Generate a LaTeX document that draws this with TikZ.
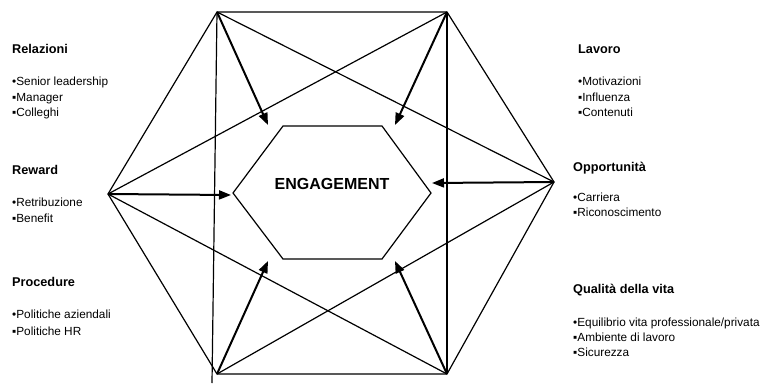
\documentclass[tikz,border=0pt]{standalone}
\usepackage{fontspec}
\setmainfont{Liberation Sans}
\usetikzlibrary{arrows.meta}
\begin{document}
\begin{tikzpicture}[x=1pt,y=-1pt,
  edge/.style={draw=black,line width=1.2pt},
  arr/.style={draw=black,line width=2pt,-{Triangle[length=12pt,width=9pt]}},
  hdr/.style={anchor=base west,inner sep=0pt,font=\fontsize{12.7}{14}\selectfont\bfseries},
  itm/.style={anchor=base west,inner sep=0pt,font=\fontsize{11.8}{13}\selectfont}]
\useasboundingbox (0,0) rectangle (763,383);
\fill[white] (0,0) rectangle (763,383);
% outer hexagon vertices
\coordinate (TL) at (217,12);
\coordinate (TR) at (447,12);
\coordinate (R) at (554,182);
\coordinate (BR) at (447,374);
\coordinate (BL) at (217,374);
\coordinate (L) at (108,194);
\coordinate (Lend) at (212,383);
% inner hexagon
\coordinate (i1) at (283,126);
\coordinate (i2) at (382,126);
\coordinate (i3) at (431,193);
\coordinate (i4) at (382,259);
\coordinate (i5) at (283,259);
\coordinate (i6) at (233,193);
% arrow tips
\coordinate (tTL) at (268,125);
\coordinate (tTR) at (395,125);
\coordinate (tBL) at (268,261);
\coordinate (tBR) at (395,261);
\coordinate (tL) at (231,195);
\coordinate (tR) at (432,183);
% outer edges
\draw[edge] (TL) -- (TR) -- (R) -- (BR) -- (BL) -- (L) -- cycle;
\draw[edge] (TL) -- (Lend);
\draw[edge] (TR) -- (BR);
% diagonals
\draw[edge] (TL) -- (R);
\draw[edge] (TR) -- (L);
\draw[edge] (BL) -- (R);
\draw[edge] (BR) -- (L);
% inner hexagon
\draw[edge] (i1) -- (i2) -- (i3) -- (i4) -- (i5) -- (i6) -- cycle;
\node[font=\fontsize{16}{18}\selectfont\bfseries] (eng) at (332,184) {ENGAGEMENT};
% arrows
\draw[arr] (TL) -- (tTL);
\draw[arr] (TR) -- (tTR);
\draw[arr] (BL) -- (tBL);
\draw[arr] (BR) -- (tBR);
\draw[arr] (L) -- (tL);
\draw[arr] (R) -- (tR);
% left texts
\node[hdr] (rel) at (12,53) {Relazioni};
\node[itm] (rel1) at (12,85) {•Senior leadership};
\node[itm] (rel2) at (12,101) {▪Manager};
\node[itm] (rel3) at (12,116) {▪Colleghi};
\node[hdr] (rew) at (12,174) {Reward};
\node[itm] (rew1) at (12,206) {•Retribuzione};
\node[itm] (rew2) at (12,222) {▪Benefit};
\node[hdr] (pro) at (12,286) {Procedure};
\node[itm] (pro1) at (12,318) {•Politiche aziendali};
\node[itm] (pro2) at (12,335) {▪Politiche HR};
% right texts
\node[hdr] (lav) at (578,53) {Lavoro};
\node[itm] (lav1) at (578,85) {•Motivazioni};
\node[itm] (lav2) at (578,101) {▪Influenza};
\node[itm] (lav3) at (578,116) {▪Contenuti};
\node[hdr] (opp) at (573,171) {Opportunità};
\node[itm] (opp1) at (573,201) {•Carriera};
\node[itm] (opp2) at (573,216) {▪Riconoscimento};
\node[hdr] (qua) at (573,293) {Qualità della vita};
\node[itm] (qua1) at (573,326) {•Equilibrio vita professionale/privata};
\node[itm] (qua2) at (573,341) {▪Ambiente di lavoro};
\node[itm] (qua3) at (573,356) {▪Sicurezza};
\end{tikzpicture}
\end{document}
